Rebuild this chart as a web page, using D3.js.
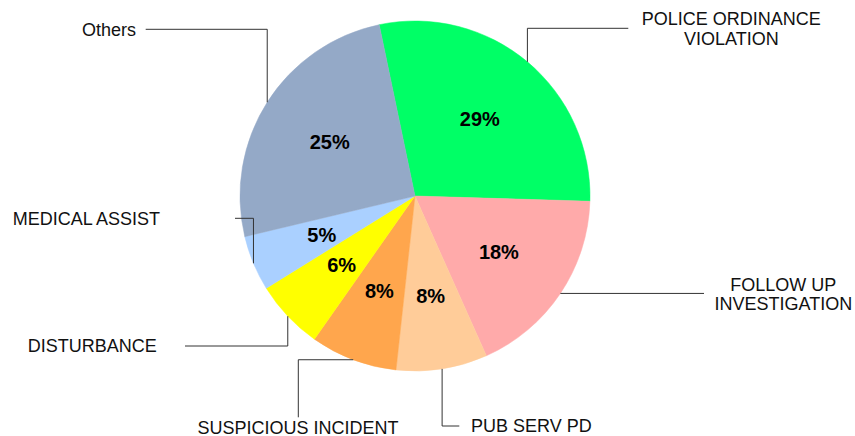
<!DOCTYPE html>
<html>
<head>
<meta charset="utf-8">
<script src="https://cdn.jsdelivr.net/npm/d3@7"></script>
<style>
  html, body { margin: 0; padding: 0; background: #fff; }
  svg { display: block; font-family: "Liberation Sans", Arial, sans-serif; }
  .pct { font-weight: bold; font-size: 20px; fill: #000; }
  .cat { font-size: 18px; fill: #111; }
  .leader { fill: none; stroke: #333; stroke-width: 1; }
</style>
</head>
<body>
<svg id="chart"></svg>
<script>
// slice order, clockwise starting just left of 12 o'clock
const categories = [
    "POLICE ORDINANCE VIOLATION",
    "FOLLOW UP INVESTIGATION",
    "PUB SERV PD",
    "SUSPICIOUS INCIDENT",
    "DISTURBANCE",
    "MEDICAL ASSIST",
    "Others"
];
const shares = [28.7, 17.8, 8.4, 8.0, 6.4, 5.1, 25.4];
const sliceColors = ["#00ff66", "#ffaaaa", "#ffcc99", "#ffa64d", "#ffff00", "#aad0ff", "#94a9c7"];

const width = 855, height = 436;
const cx = 415, cy = 196, radius = 175;

// where each category label sits and how its leader line bends
const labelLayout = {
    "POLICE ORDINANCE VIOLATION": {lines: ["POLICE ORDINANCE", "VIOLATION"], steps: [["v", 28.3], ["h", 628.3]], x: 731.3, y: 28.7, anchor: "middle"},
    "FOLLOW UP INVESTIGATION":    {lines: ["FOLLOW UP", "INVESTIGATION"], steps: [["h", 704]], x: 783.3, y: 294.3, anchor: "middle"},
    "PUB SERV PD":                {lines: ["PUB SERV PD"], steps: [["v", 426], ["h", 459.3]], x: 471, y: 426, anchor: "start"},
    "SUSPICIOUS INCIDENT":        {lines: ["SUSPICIOUS INCIDENT"], steps: [["h", 298.3], ["v", 417.3]], x: 298, y: 427.3, anchor: "middle"},
    "DISTURBANCE":                {lines: ["DISTURBANCE"], steps: [["v", 346], ["h", 185]], x: 27.7, y: 346, anchor: "start"},
    "MEDICAL ASSIST":             {lines: ["MEDICAL ASSIST"], steps: [["v", 218.3], ["h", 235]], x: 12.7, y: 218.7, anchor: "start"},
    "Others":                     {lines: ["Others"], steps: [["v", 29.3], ["h", 145.7]], x: 136, y: 29.3, anchor: "end"}
};

const data = categories.map((c, i) => ({category: c, value: shares[i], color: sliceColors[i]}));
const total = d3.sum(shares);

const svg = d3.select("#chart")
    .attr("width", width)
    .attr("height", height);

const g = svg.append("g").attr("transform", `translate(${cx},${cy})`);

const startAngle = -11.8 * Math.PI / 180;
const pie = d3.pie()
    .sort(null)
    .value(d => d.value)
    .startAngle(startAngle)
    .endAngle(startAngle + 2 * Math.PI);

const arcs = pie(data);

const arc = d3.arc().innerRadius(0).outerRadius(radius);
const labelArc = d3.arc().innerRadius(101).outerRadius(101);

g.selectAll("path.slice")
    .data(arcs)
    .enter()
    .append("path")
    .attr("class", "slice")
    .attr("d", arc)
    .attr("fill", d => d.data.color)
    .attr("stroke", d => d.data.color)
    .attr("stroke-width", 0.5);

g.selectAll("text.pct")
    .data(arcs)
    .enter()
    .append("text")
    .attr("class", "pct")
    .attr("x", d => labelArc.centroid(d)[0])
    .attr("y", d => labelArc.centroid(d)[1])
    .attr("dy", "0.35em")
    .attr("text-anchor", "middle")
    .text(d => Math.round(d.value / total * 100) + "%");

// leader lines start on the rim at each slice's mid-angle
function leaderPoints(d) {
    const mid = (d.startAngle + d.endAngle) / 2;
    let p = [cx + radius * Math.sin(mid), cy - radius * Math.cos(mid)];
    const pts = [p];
    labelLayout[d.data.category].steps.forEach(([dir, v]) => {
        p = dir === "v" ? [p[0], v] : [v, p[1]];
        pts.push(p);
    });
    return pts;
}

svg.selectAll("polyline.leader")
    .data(arcs)
    .enter()
    .append("polyline")
    .attr("class", "leader")
    .attr("points", d => leaderPoints(d).map(p => p.join(",")).join(" "));

const lineHeight = 19.5;
arcs.forEach(d => {
    const lay = labelLayout[d.data.category];
    const n = lay.lines.length;
    const t = svg.append("text")
        .attr("class", "cat")
        .attr("text-anchor", lay.anchor);
    lay.lines.forEach((line, i) => {
        t.append("tspan")
            .attr("x", lay.x)
            .attr("y", lay.y + (i - (n - 1) / 2) * lineHeight)
            .attr("dy", "0.35em")
            .text(line);
    });
});
</script>
</body>
</html>
